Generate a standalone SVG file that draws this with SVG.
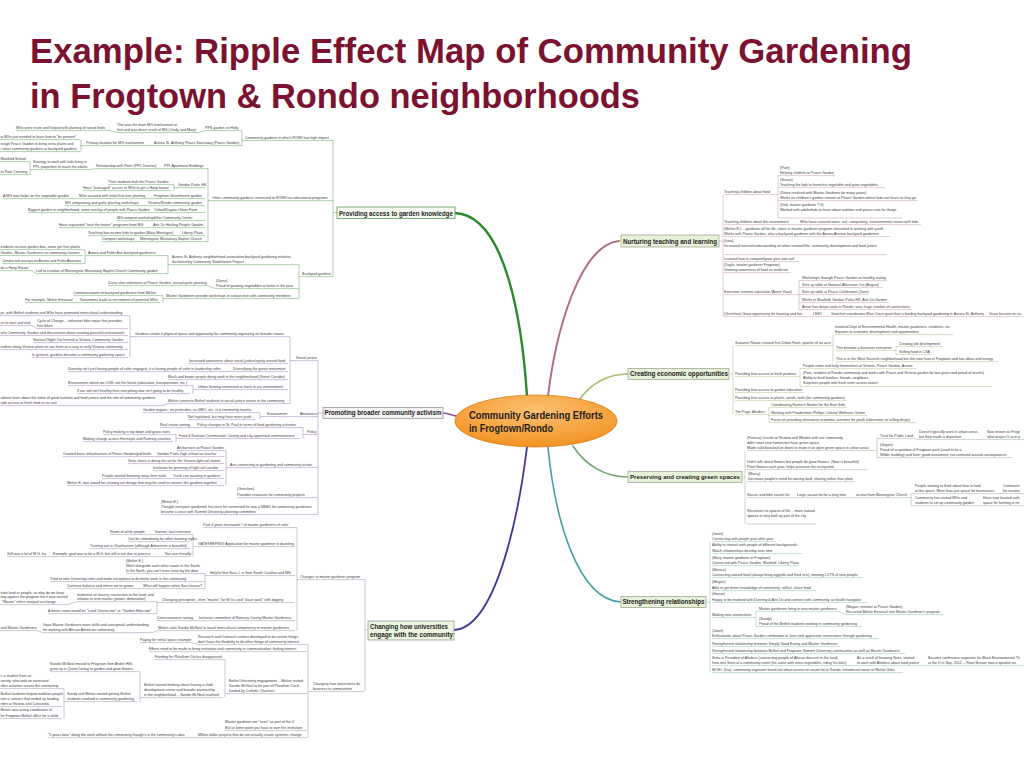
<svg xmlns="http://www.w3.org/2000/svg" width="1024" height="768" viewBox="0 0 1024 768">
<defs>
<radialGradient id="og" cx="0.5" cy="0.3" r="0.75">
<stop offset="0" stop-color="#fcc070"/>
<stop offset="1" stop-color="#f2901e"/>
</radialGradient>
</defs>
<style>
.t{font-family:"Liberation Sans",Arial,sans-serif;font-size:3.6px;fill:#3c3c3c}
.e{text-anchor:end}
.h{font-family:"Liberation Sans",Arial,sans-serif;font-weight:bold;fill:#1e1e1e}
.ttl{font-family:"Liberation Sans",Arial,sans-serif;font-weight:bold;font-size:35px;fill:#7a1230}
.u{fill:none;stroke-width:0.55}
.c{fill:none;stroke-linecap:round}
.bx{stroke-width:0.8}
</style>
<rect width="1024" height="768" fill="#ffffff"/>
<g id="title">
<text class="ttl" x="30" y="63" textLength="882" lengthAdjust="spacingAndGlyphs">Example: Ripple Effect Map of Community Gardening</text>
<text class="ttl" x="30" y="108" textLength="610" lengthAdjust="spacingAndGlyphs">in Frogtown &amp; Rondo neighborhoods</text>
</g>
<g id="connectors">
<path class="c" stroke="#2a8a2a" stroke-width="2.4" d="M527 396C522 320 505 215 455 213"/>
<path class="c" stroke="#b07080" stroke-width="2" d="M548 396C556 330 580 245 619 241"/>
<path class="c" stroke="#a6bc6a" stroke-width="1.6" d="M579 400C590 385 605 374 628 374"/>
<path class="c" stroke="#70a870" stroke-width="1.6" d="M573 446C585 465 605 477 628 477"/>
<path class="c" stroke="#4aa0a0" stroke-width="1.6" d="M548 447C555 520 578 600 621 602"/>
<path class="c" stroke="#3a3a9a" stroke-width="1.8" d="M527 447C518 520 495 628 454 630"/>
<path class="c" stroke="#9050a0" stroke-width="1.6" d="M443 413C450 413 452 416 457 416"/>
<path class="u" stroke="#6aaa6a" d="M16 130.6H110L117 132.6H198L205 130.6H238 M0 139.6H80 M0 151.6H80 M81 139.6V151.6 M80 145.6H147L154 145.6H240 M238 130.6H242V145.6H240 M242 140.6H333 M0 161.6H30 M0 174.6H30 M30 161.6V174.6 M30 169.6H90L96 168.6H205 M108 184.6H171 M83 190.6H171 M171 184.6H174V190.6 M174 187.6H205 M3 198.6H205 M65 205.6H205 M28 212.6H205 M117 220.6H205 M59 227.6H205 M88 235.6H205 M102 241.6H205 M205 168.6H208V241.6H205 M208 200.6H333 M0 249.6H83 M0 255.6H83 M2 263.6H83 M83 249.6H85V263.6H83 M85 255.6H158 M0 270.6H32L36 273.6H165 M158 255.6H168V273.6H165 M168 264.6H297 M108 285.6H207L216 288.6H297 M73 295.6H160 M25 302.6H160 M160 295.6H163V302.6 M163 298.6H297 M297 264.6H299V298.6H297 M297 288.6H299 M299 276.6H333 M333 140.6V276.6 M333 212.6H337"/>
<path class="u" stroke="#a888b8" d="M0 315.6H128 M0 325.6H32L37 328.6H128 M0 335.6H128 M33 342.6H128 M0 349.6H128 M32 357.6H128 M128 315.6H130V357.6 M130 336.6H288 M189 363.6H288 M68 371.6H288 M168 379.6H288 M68 385.6H190 M77 393.6H190 M190 385.6H193V393.6 M193 389.6H288 M0 405.6H163L168 403.6H288 M288 336.6H290V403.6H288 M290 360.6H318 M143 412.6H255 M188 419.6H255 M255 412.6H260V419.6 M260 416.6H318 M160 427.6H300 M103 434.6H173 M83 441.6H173 M173 434.6H176V441.6 M176 438.6H300 M300 427.6H303V438.6 M303 434.6H318 M177 450.6H224 M63 456.6H224 M128 463.6H224 M153 470.6H224 M102 478.6H224 M67 485.6H224 M224 450.6H226V485.6 M226 467.6H318 M237 497.6H318 M161 514.6H318 M318 360.6V514.6 M318 413H323"/>
<path class="u" stroke="#9a9ab4" d="M203 527.6H295 M110 534.6H190 M128 541.6H190 M90 548.6H190 M7 556.6H190 M190 534.6H193V556.6 M193 546.6H295 M126 573.6H205 M50 581.6H205 M67 588.6H205 M205 573.6V588.6 M205 575.6H295 M0 604.6H68L77 601.6H157 M48 613.6H157 M157 601.6V613.6 M157 602.6H295 M157 620.6H295 M0 630.6H37L43 632.6H152L158 630.6H295 M295 527.6H297V630.6 M297 579.6H364 M140 642.6H192L198 644.6H307 M149 651.6H307 M155 659.6H223 M50 671.6H137 M0 688.6H62 M0 706.6H62 M0 718.6H62 M62 688.6H64V718.6 M64 701.6H137 M137 671.6H140V701.6 M140 697.6H223 M223 659.6H225V697.6 M225 693.6H307 M225 730.6H307 M48 737.6H307 M307 644.6H308V737.6 M308 691.6H364 M364 579.6H365V691.6 M365 630H368"/>
<path class="u" stroke="#c4a2b2" d="M780 175.6H835 M780 187.6H885 M780 200.6H918 M780 218H902 M778 175.6V218 M778 175.6H780 M778 187.6H780 M778 200.6H780 M778 218H780 M724 194.6H778 M724 224.6H921 M724 236.6H890 M724 254.6H887 M724 261.6H799 M724 272.6H791 M724 294.6H799 M799 280.6V309.6 M799 280.6H887 M799 287.6H883 M799 294.6H868 M799 302.6H889 M799 309.6H912 M724 316.6H1024 M723 194.6V316.6 M719 241H723"/>
<path class="u" stroke="#aec48e" d="M835 334.6H953 M836 350.6H896 M896 346.6V354.6 M896 346.6H942 M896 354.6H931 M836 361.6H998 M833 334.6V361.6 M735 345.6H833 M735 376.6H800 M800 368.6V386.6 M800 368.6H917 M800 386.6H992 M735 392.6H804 M735 400.6H847 M735 414.6H769 M769 407.6V422.6 M769 407.6H847 M769 415.6H867 M769 422.6H916 M733 345.6V414.6 M729 374H733"/>
<path class="u" stroke="#98b898" d="M747 450.6H877 M877 438.6V457.6 M877 438.6H914L919 439.6H1024 M877 457.6H1012 M747 469.6H867 M747 481.6H855 M747 497.6H911 M911 493.6V505.6 M911 493.6H1024 M911 505.6H1024 M747 524H816 M745 450.6V524 M742 477H745"/>
<path class="u" stroke="#90c0b8" d="M712 541.6H776 M712 553.6H802 M712 565.6H800 M712 577.6H863 M712 590.6H816 M712 602.6H867 M712 617.6H756 M756 611.6V626.6 M756 611.6H839L846 614.6H943 M756 626.6H862 M712 638.6H879 M712 646.6H840 M712 653.6H905 M712 665.6H1024 M712 672.6H903 M710 541.6V672.6 M706 602H710"/>
</g>
<g id="n-center">
<ellipse cx="536" cy="421" rx="81" ry="26" fill="url(#og)" stroke="#d4801e" stroke-width="0.8"/>
<text class="h" x="469" y="419" font-size="10" textLength="134" lengthAdjust="spacingAndGlyphs">Community Gardening Efforts</text>
<text class="h" x="469" y="432" font-size="10" textLength="84" lengthAdjust="spacingAndGlyphs">in Frogtown/Rondo</text>
</g>
<g id="n-knowledge">
<rect class="bx" x="337" y="207" width="118" height="11.5" fill="#f4faf0" stroke="#5aa05a"/>
<text class="h" x="339" y="215.5" font-size="6.3" textLength="114" lengthAdjust="spacingAndGlyphs">Providing access to garden knowledge</text>
<text class="t" x="16" y="129.3">MGs were invite and helped with planting of raised beds</text>
<text class="t" x="117" y="126.3">This was the main MG involvement at</text>
<text class="t" x="117" y="131.3">first and was direct result of MG (Cindy and Mary)</text>
<text class="t" x="205" y="129.3">PPS garden on Holly</text>
<text class="t" x="245" y="139.3">Community gardens in which RONS has high impact</text>
<text class="t" x="0.5" y="138.3">w MGs just needed to learn how to "be present"</text>
<text class="t" x="0.5" y="145.3">rough Peace Garden to bring extra plants and</text>
<text class="t" x="0.5" y="150.3">t other community gardens or backyard gardens</text>
<text class="t" x="86" y="144.3">Primary location for MG involvement</text>
<text class="t" x="154" y="144.3">Aurora St. Anthony Peace Sanctuary (Peace Garden)</text>
<text class="t" x="0.5" y="160.3">Maxfield School</text>
<text class="t" x="0.5" y="173.3">er Park Crossing</text>
<text class="t" x="33" y="163.3">Strategy to work with kids living in</text>
<text class="t" x="33" y="168.3">PPL properties to reach the adults</text>
<text class="t" x="96" y="167.3">Relationship with Peter (PPL Director)</text>
<text class="t" x="164" y="167.3">PPL Apartment Buildings</text>
<text class="t" x="108" y="183.3">Their students built the Peace Garden</text>
<text class="t" x="83" y="189.3">Have "leveraged" access to MGs to get a Hoop house</text>
<text class="t" x="178" y="186.3">Gordon Parks HS</text>
<text class="t" x="3" y="197.3">A MG now helps on the vegetable garden</text>
<text class="t" x="79" y="197.3">MGs assisted with initial fruit tree planting</text>
<text class="t" x="154" y="197.3">Frogtown Greenhouse garden</text>
<text class="t" x="212" y="199.3">Other community gardens connected to RONS via educational programs</text>
<text class="t" x="65" y="204.3">MG composting and garlic planting workshops</text>
<text class="t" x="148" y="204.3">Victoria/Rondo community garden</text>
<text class="t" x="28" y="211.3">Biggest garden in neighborhood, some overlap of people with Peace Garden</text>
<text class="t" x="154" y="211.3">Oxford/Dayton Urban Farm</text>
<text class="t" x="117" y="219.3">MG compost workshops</text>
<text class="t" x="154" y="219.3">Oiler Community Center</text>
<text class="t" x="59" y="226.3">Have requested "train the trainer" programs from MG</text>
<text class="t" x="153" y="226.3">Arts Us Healing People Garden</text>
<text class="t" x="88" y="234.3">Teaching low-income kids to garden (Mary Montague)</text>
<text class="t" x="182" y="234.3">Liberty Plaza</text>
<text class="t" x="102" y="240.3">Compost workshops</text>
<text class="t" x="140" y="240.3">Morningstar Missionary Baptist Church</text>
<text class="t" x="0.5" y="248.3">esidents receive garden box, some get free plants</text>
<text class="t" x="0.5" y="254.3">Garden, Master Gardeners as community liaisons</text>
<text class="t" x="2" y="262.3">Conducted surveys on Aurora and Fuller Avenues</text>
<text class="t" x="88" y="254.3">Aurora and Fuller Ave backyard gardeners</text>
<text class="t" x="0.5" y="269.3">de a Hoop House</text>
<text class="t" x="36" y="272.3">Led to creation of Morningstar Missionary Baptist Church Community garden</text>
<text class="t" x="172" y="258.3">Aurora St. Anthony neighborhood association backyard gardening initiative,</text>
<text class="t" x="172" y="263.3">facilitated by Community Stabilization Project</text>
<text class="t" x="302" y="275.3">Backyard gardens</text>
<text class="t" x="108" y="284.3">Diane also volunteers at Peace Garden; annual garlic planting</text>
<text class="t" x="216" y="282.3">(Diane)</text>
<text class="t" x="216" y="287.3">Proud of growing vegetables at home in the past</text>
<text class="t" x="73" y="294.3">Communications to backyard gardeners from Melvin</text>
<text class="t" x="25" y="301.3">For example, Melvin Emanuel</text>
<text class="t" x="80" y="301.3">Sometimes leads to recruitment of potential MGs</text>
<text class="t" x="166" y="297.3">Master Gardeners provide workshops in conjunction with community members</text>
</g>
<g id="n-activism">
<rect class="bx" x="323" y="407.5" width="120" height="11" fill="#f2f2f2" stroke="#999999"/>
<text class="h" x="324.5" y="415.3" font-size="6.3" textLength="117" lengthAdjust="spacingAndGlyphs">Promoting broader community activism</text>
<text class="t" x="0.5" y="314.3">ps, with Bethel students and MGs have promoted intercultural understanding</text>
<text class="t" x="0.5" y="324.3">es to start and end</text>
<text class="t" x="37" y="322.3">Cycle of Change -- volunteer bike repair that provides</text>
<text class="t" x="37" y="327.3">free bikes</text>
<text class="t" x="0.5" y="334.3">oria Community Garden and discussions about creating peaceful environment</text>
<text class="t" x="33" y="341.3">National Night Out hosted at Victoria Community Garden</text>
<text class="t" x="0.5" y="348.3">ardens along Victoria plans to use them as a way to unify Victoria community</text>
<text class="t" x="32" y="356.3">In general, gardens become a community gathering space</text>
<text class="t" x="135" y="335.3">Gardens create a physical space and opportunity for community organizing on broader issues</text>
<text class="t" x="296" y="359.3">Social justice</text>
<text class="t" x="189" y="362.3">Increased awareness about social justice/equity around food</text>
<text class="t" x="68" y="370.3">Diversity isn't just having people of color engaged, it is having people of color in leadership roles</text>
<text class="t" x="233" y="370.3">Diversifying the green movement</text>
<text class="t" x="168" y="378.3">Black and brown people doing work in the neighborhood (Green Corridor)</text>
<text class="t" x="68" y="384.3">Environment where we LIVE, not the forest (education, transportation, etc.)</text>
<text class="t" x="77" y="392.3">If our soil isn't healthy then everything else isn't going to be healthy</text>
<text class="t" x="198" y="388.3">Urban farming connected us back to our environment</text>
<text class="t" x="0.5" y="399.3">udents learn about the value of good nutrition and food justice and the role of community gardens</text>
<text class="t" x="0.5" y="404.3">vide access to fresh food at no cost</text>
<text class="t" x="168" y="402.3">Melvin connects Bethel students to social justice issues in the community</text>
<text class="t" x="143" y="411.3">Garden organic; no pesticides; no GMO; etc. is a community mantra</text>
<text class="t" x="188" y="418.3">Not legislated, but may have more push</text>
<text class="t" x="267" y="415.3">Environment</text>
<text class="t" x="300" y="415.3">Awareness</text>
<text class="t" x="160" y="426.3">Real estate zoning</text>
<text class="t" x="197" y="426.3">Policy changes in St. Paul in terms of food gardening activities</text>
<text class="t" x="103" y="433.3">Policy making is top down and grass roots</text>
<text class="t" x="83" y="440.3">Making change across Hennepin and Ramsey counties</text>
<text class="t" x="179" y="437.3">Food &amp; Nutrition Commission: County and city-appointed commissioners</text>
<text class="t" x="307" y="433.3">Policy</text>
<text class="t" x="177" y="449.3">Art banners at Peace Garden</text>
<text class="t" x="63" y="455.3">Created basic infrastructure of Peace Garden/grid beds</text>
<text class="t" x="157" y="455.3">Gordon Parks high school art teacher</text>
<text class="t" x="128" y="462.3">Seitu Jones is doing the art for the Victoria light rail station</text>
<text class="t" x="153" y="469.3">Invitation for greening of light rail corridor</text>
<text class="t" x="102" y="477.3">People started throwing away their trash</text>
<text class="t" x="173" y="477.3">Trash can painting in gardens</text>
<text class="t" x="67" y="484.3">Melvin E. was award for creating our design that may be used to connect the gardens together</text>
<text class="t" x="230" y="466.3">Arts connecting to gardening and community action</text>
<text class="t" x="237" y="490.3">(Gretchen)</text>
<text class="t" x="237" y="496.3">Provides resources for community projects</text>
<text class="t" x="161" y="503.3">(Melvin E.)</text>
<text class="t" x="161" y="508.3">Thought everyone gardened, but once he connected he saw a NEED for community gardeners</text>
<text class="t" x="161" y="513.3">became a voice with Summit University planning committee</text>
</g>
<g id="n-universities">
<rect class="bx" x="368" y="621" width="86" height="19" fill="#eaf6e0" stroke="#9a9a9a"/>
<text class="h" x="370" y="628.5" font-size="6.6" textLength="78" lengthAdjust="spacingAndGlyphs">Changing how universities</text>
<text class="h" x="370" y="636.8" font-size="6.6" textLength="83" lengthAdjust="spacingAndGlyphs">engage with the community</text>
<text class="t" x="203" y="526.3">Past 4 years increased # of master gardeners of color</text>
<text class="t" x="110" y="533.3">Room of white people</text>
<text class="t" x="155" y="533.3">Intense, tacit interview</text>
<text class="t" x="128" y="540.3">Can be intimidating for other learning styles</text>
<text class="t" x="90" y="547.3">Training out in Chanhassen (although Arboretum is beautiful)</text>
<text class="t" x="7" y="555.3">Still was a lot of M.G. lex</text>
<text class="t" x="53" y="555.3">Example: goal was to be a M.G. but still is not due to process</text>
<text class="t" x="165" y="555.3">Not user friendly</text>
<text class="t" x="198" y="545.3">GATEKEEPING! Application for master gardener is daunting</text>
<text class="t" x="126" y="562.3">(Melvin E.)</text>
<text class="t" x="126" y="567.3">Work alongside each other easier in the South</text>
<text class="t" x="126" y="572.3">In the North, you can't even listen by the door</text>
<text class="t" x="210" y="574.3">Helpful that Sara J. is from South Carolina and MN</text>
<text class="t" x="50" y="580.3">Tried to take University rules and make exceptions to do better work in the community</text>
<text class="t" x="67" y="587.3">Continue balance and where we've grown</text>
<text class="t" x="143" y="587.3">What will happen when Sara leaves?</text>
<text class="t" x="0.5" y="594.3">trate land or people; so why do we keep</text>
<text class="t" x="0.5" y="598.3">ting against the program but it was started</text>
<text class="t" x="2" y="603.3">"Master" infers unequal exchange</text>
<text class="t" x="77" y="596.3">Institution of slavery, connection to the land, and</text>
<text class="t" x="77" y="600.3">relation to term master (power, domination)</text>
<text class="t" x="162" y="601.3">Changing perception - term "master" for M.G.s and "slave work" with digging</text>
<text class="t" x="48" y="612.3">A better name would be "Land Connection" or "Garden Educator"</text>
<text class="t" x="157" y="619.3">Consciousness raising</text>
<text class="t" x="199" y="619.3">Inclusion committee of Ramsey County Master Gardeners</text>
<text class="t" x="0.5" y="629.3">and Master Gardeners</text>
<text class="t" x="43" y="626.3">Gave Master Gardeners more skills and conceptual understanding</text>
<text class="t" x="43" y="631.3">for working with African American community</text>
<text class="t" x="158" y="629.3">Melvin asks Sandie McNeal to teach intercultural competency to master gardeners</text>
<text class="t" x="300" y="578.3">Changes to master gardener program</text>
<text class="t" x="140" y="641.3">Paying for rental space example</text>
<text class="t" x="198" y="638.3">Research and Outreach centers developed to do certain things;</text>
<text class="t" x="198" y="643.3">don't have the flexibility to do other things of community interest</text>
<text class="t" x="149" y="650.3">Efforts need to be made to bring institution and community in communication: finding interest</text>
<text class="t" x="155" y="658.3">Funding for Pluralism Circles disappeared</text>
<text class="t" x="50" y="665.3">Sandie McNeal moved to Frogtown from Arden Hills</text>
<text class="t" x="50" y="670.3">grew up in Queen loving to garden and grow flowers</text>
<text class="t" x="0.5" y="677.3">t, a student from an</text>
<text class="t" x="0.5" y="682.3">versity, who took on increased</text>
<text class="t" x="0.5" y="687.3">rden activities across the community</text>
<text class="t" x="0.5" y="695.3">Bethel students helped mobilize people</text>
<text class="t" x="0.5" y="700.3">een a connect that ended up funding</text>
<text class="t" x="0.5" y="705.3">rden at Victoria and Concordia</text>
<text class="t" x="0.5" y="711.3">Melvin was acting coordinator of</text>
<text class="t" x="0.5" y="717.3">he Frogtown Bethel office for a while</text>
<text class="t" x="67" y="695.3">Sandy and Melvin started getting Bethel</text>
<text class="t" x="67" y="700.3">students involved in community gardening</text>
<text class="t" x="144" y="686.3">Bethel started thinking about having a child</text>
<text class="t" x="144" y="691.3">development center and broader partnership</text>
<text class="t" x="144" y="696.3">in the neighborhood -- Sandie McNeal involved</text>
<text class="t" x="229" y="682.3">Bethel University engagement -- Melvin invited</text>
<text class="t" x="229" y="687.3">Sandie McNeal to be part of Pluralism Circle</text>
<text class="t" x="229" y="692.3">funded by Catholic Charities</text>
<text class="t" x="225" y="723.3">Master gardener not "seen" as part of the U</text>
<text class="t" x="225" y="729.3">But at some point you have to own the institution</text>
<text class="t" x="48" y="736.3">"5 years later" doing the work without the community though it is the community's idea</text>
<text class="t" x="198" y="736.3">Million dollar projects that do not actually create systemic change</text>
<text class="t" x="313" y="685.3">Changing how universities do</text>
<text class="t" x="313" y="690.3">business in communities</text>
</g>
<g id="n-teaching">
<rect class="bx" x="621" y="235" width="98" height="12" fill="#e6f2d8" stroke="#a0aa98"/>
<text class="h" x="623" y="243.6" font-size="6.6" textLength="94" lengthAdjust="spacingAndGlyphs">Nurturing teaching and learning</text>
<text class="t" x="780" y="169.3">(Pam)</text>
<text class="t" x="780" y="174.3">Helping children at Peace Garden</text>
<text class="t" x="780" y="181.3">(Susan)</text>
<text class="t" x="780" y="186.3">Teaching the kids to know/eat vegetable and grow vegetables.</text>
<text class="t" x="780" y="194.3">(Diane involved with Master Gardners for many years)</text>
<text class="t" x="780" y="199.3">Works on children's garden classes at Peace Garden where kids can learn as they go</text>
<text class="t" x="780" y="206.3">(Deb, master gardener 7-6)</text>
<text class="t" x="780" y="211.3">Worked with adults/kids to learn about nutrition and grocer care for things</text>
<text class="t" x="724" y="193.3">Teaching children about food</text>
<text class="t" x="724" y="223.3">Teaching children about the environment</text>
<text class="t" x="800" y="223.3">MGs have covered water, soil, composting, environmental issues with kids</text>
<text class="t" x="724" y="230.3">(Melvin E.) -- gardener all his life; intern in master gardener program interested in working with youth</text>
<text class="t" x="724" y="235.3">Works with Peace Garden, also a backyard gardener with the Aurora Avenue backyard gardeners</text>
<text class="t" x="724" y="242.3">(Irina)</text>
<text class="t" x="724" y="247.3">Increased interest/understanding of urban renewal/life, community development and food justice</text>
<text class="t" x="724" y="260.3">Learned how to compost/grow your own soil</text>
<text class="t" x="724" y="266.3">(Doyle, master gardener Frogtown)</text>
<text class="t" x="724" y="271.3">Growing awareness of food as medicine</text>
<text class="t" x="724" y="293.3">Extension nutrition education (Annie Vaan)</text>
<text class="t" x="802" y="279.3">Workshops through Peace Garden on healthy eating</text>
<text class="t" x="802" y="286.3">Sets up table at National Afternoon Out (August)</text>
<text class="t" x="802" y="293.3">Sets up table at Peace Celebration (June)</text>
<text class="t" x="802" y="301.3">Works in Maxfield, Gordon Parks HS, Arts Us Garden</text>
<text class="t" x="802" y="308.3">Annie has deeps roots in Rondo; area; huge number of connections</text>
<text class="t" x="724" y="315.3">(Gretchen) Great opportunity for learning and fun</text>
<text class="t" x="813" y="315.3">LEEC</text>
<text class="t" x="831" y="315.3">Gretchen coordinates Blue Cross grant that is funding backyard gardening in Aurora St. Anthony</text>
<text class="t" x="989" y="315.3">Grant focuses on ea</text>
</g>
<g id="n-economic">
<rect class="bx" x="628" y="368.5" width="101" height="11" fill="#e6f2d8" stroke="#a0aa98"/>
<text class="h" x="630" y="376.3" font-size="6.6" textLength="98" lengthAdjust="spacingAndGlyphs">Creating economic opportunities</text>
<text class="t" x="835" y="328.3">Involved Dept of Environmental Health, master gardeners, residents, etc.</text>
<text class="t" x="835" y="333.3">Equates to economic development and opportunities</text>
<text class="t" x="735" y="344.3">Suzanne Rouse created first Urban Farm; quarter of an acre</text>
<text class="t" x="836" y="349.3">This became a business enterprise</text>
<text class="t" x="899" y="345.3">Creating job development</text>
<text class="t" x="899" y="353.3">Selling food in CSA</text>
<text class="t" x="836" y="360.3">This is in the West Seventh neighborhood but she now lives in Frogtown and has ideas and energy</text>
<text class="t" x="735" y="375.3">Providing free access to fresh produce</text>
<text class="t" x="803" y="367.3">People come and help themselves at Victoria, Peace Garden, Aurora</text>
<text class="t" x="803" y="374.3">(Pam, resident of Rondo community and works with Peace and Victoria garden for two years and proud of results)</text>
<text class="t" x="803" y="379.3">Ability to feed families, friends, neighbors</text>
<text class="t" x="803" y="384.3">Surprises people with fresh even across states!</text>
<text class="t" x="735" y="391.3">Providing free access to garden education</text>
<text class="t" x="735" y="399.3">Providing free access to plants, seeds, tools (for community gardens)</text>
<text class="t" x="735" y="413.3">Tim Page, Afrobics</text>
<text class="t" x="771" y="406.3">Coordinating Farmers Market for the East Side</text>
<text class="t" x="771" y="414.3">Working with Powderhorn Phillips Cultural Wellness Center</text>
<text class="t" x="771" y="421.3">Focus on providing alternative economic activities for youth (alternative to selling drugs)</text>
</g>
<g id="n-green">
<rect class="bx" x="628" y="471.5" width="114" height="11" fill="#e6f2d8" stroke="#a0aa98"/>
<text class="h" x="630" y="479.3" font-size="6.2" textLength="110" lengthAdjust="spacingAndGlyphs">Preserving and creating green spaces</text>
<text class="t" x="747" y="439.3">(Patricia) Lincoln at Victoria and Whalen with our community</text>
<text class="t" x="747" y="444.3">didn't want new homes but have green space</text>
<text class="t" x="747" y="449.3">Made calls/knocked on doors to make it an open green space in urban areas</text>
<text class="t" x="880" y="437.3">Trust for Public Land</text>
<text class="t" x="919" y="433.3">Doesn't typically work in urban areas,</text>
<text class="t" x="919" y="438.3">but they made a departure</text>
<text class="t" x="987" y="433.3">Now known as Frogt</text>
<text class="t" x="987" y="438.3">what project 5 acre p</text>
<text class="t" x="880" y="446.3">(Gayen)</text>
<text class="t" x="880" y="451.3">Proud of acquisition of Frogtown park (used to be a</text>
<text class="t" x="880" y="456.3">Wilder building) and farm; good investment; not centered around consequences</text>
<text class="t" x="747" y="463.3">Didn't talk about flowers but people do grow flowers. (Now is beautiful)</text>
<text class="t" x="747" y="468.3">Plant flowers each year, helps preserve the ecosystem</text>
<text class="t" x="748" y="475.3">(Marcy)</text>
<text class="t" x="748" y="480.3">Decrease people's need for owning land, sharing rather than plots</text>
<text class="t" x="747" y="496.3">Soccer and bike vacant lot</text>
<text class="t" x="797" y="496.3">Large vacant lot for a long time</text>
<text class="t" x="856" y="496.3">across from Morningstar Church</text>
<text class="t" x="915" y="487.3">People starting to think about how to look</text>
<text class="t" x="915" y="492.3">at the space. More than just space for businesses</text>
<text class="t" x="1003" y="487.3">Communit</text>
<text class="t" x="1003" y="492.3">for income</text>
<text class="t" x="915" y="499.3">Community has invited MGs and</text>
<text class="t" x="915" y="504.3">students to set up community garden</text>
<text class="t" x="983" y="499.3">Have now located auth</text>
<text class="t" x="983" y="504.3">space for farming in ne</text>
<text class="t" x="747" y="512.3">Reconnect to spaces of life -- more natural</text>
<text class="t" x="747" y="517.3">spaces in very built up part of the city</text>
</g>
<g id="n-relationships">
<rect class="bx" x="621" y="596.5" width="85" height="11" fill="#e6f2d8" stroke="#a0aa98"/>
<text class="h" x="622.5" y="604.3" font-size="6.6" textLength="82" lengthAdjust="spacingAndGlyphs">Strengthening relationships</text>
<text class="t" x="712" y="535.3">(Janet)</text>
<text class="t" x="712" y="540.3">Connecting with people year after year</text>
<text class="t" x="712" y="546.3">Ability to interact with people of different backgrounds</text>
<text class="t" x="712" y="552.3">Watch relationships develop over time</text>
<text class="t" x="712" y="559.3">(Mary, master gardener at Frogtown)</text>
<text class="t" x="712" y="564.3">Connected with Peace Garden, Maxfield, Liberty Plaza</text>
<text class="t" x="712" y="571.3">(Monica)</text>
<text class="t" x="712" y="576.3">Connecting around food (always bring eggrolls and fried rice), meeting LOTS of new people</text>
<text class="t" x="712" y="583.3">(Megan)</text>
<text class="t" x="712" y="589.3">Able to get better knowledge of community; reflect, share food</text>
<text class="t" x="712" y="595.3">(Hanan)</text>
<text class="t" x="712" y="601.3">Happy to be involved with Dunning &amp; Arts Us and connect with community as health navigator</text>
<text class="t" x="712" y="616.3">Making new connections</text>
<text class="t" x="759" y="610.3">Master gardeners bring in new master gardeners</text>
<text class="t" x="846" y="608.3">(Megan, minister at Peace Garden)</text>
<text class="t" x="846" y="613.3">Recruited Melvin Emanuel into Master Gardener's program</text>
<text class="t" x="759" y="620.3">(Sandy)</text>
<text class="t" x="759" y="625.3">Proud of the Bethel students working in community gardening</text>
<text class="t" x="712" y="632.3">(Janet)</text>
<text class="t" x="712" y="637.3">Enthusiastic about Peace Garden celebration in June and appreciate connections through gardening</text>
<text class="t" x="712" y="645.3">Strengthened relationship between Simply Good Eating and Master Gardeners</text>
<text class="t" x="712" y="652.3">Strengthened relationship between Bethel and Frogtown Summit University communities as well as Master Gardeners</text>
<text class="t" x="712" y="659.3">Seitu is President of Afrobics (connecting people of African descent to the land)</text>
<text class="t" x="712" y="664.3">Irina met Seitu at a community event (he came with extra vegetables, riding his bike)</text>
<text class="t" x="857" y="659.3">As a result of knowing Seitu, started</text>
<text class="t" x="857" y="664.3">to work with Afrobics about food justice</text>
<text class="t" x="928" y="659.3">Became conference organizer for Black Environmental Th</text>
<text class="t" x="928" y="664.3">at the U in Sep. 2012 -- Rose Brewer was a speaker an</text>
<text class="t" x="712" y="671.3">MCHC (Ina), community organizer found out about access to vacant lot in Rondo. Introduced owner to Melvin Giles</text>
</g>
</svg>
